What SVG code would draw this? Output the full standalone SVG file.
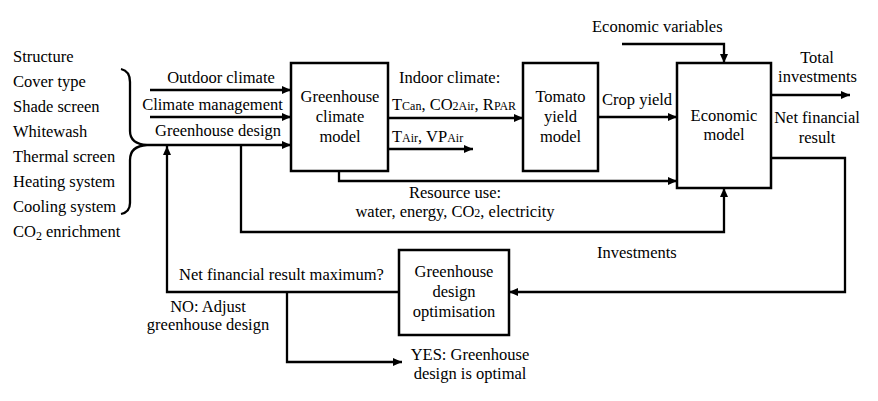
<svg xmlns="http://www.w3.org/2000/svg" width="878" height="401" viewBox="0 0 878 401" font-family="Liberation Serif, DejaVu Serif, serif">
<style>
text{font-family:'Liberation Serif','DejaVu Serif',serif;font-size:16.5px;fill:#000}
.c{text-anchor:middle}
.s{font-size:12px}
.box{fill:#fff;stroke:#000;stroke-width:2.5}
.ln{fill:none;stroke:#000;stroke-width:2.3}
.ar{fill:none;stroke:#000;stroke-width:2.3;marker-end:url(#ah)}
</style>
<defs>
<marker id="ah" markerUnits="userSpaceOnUse" markerWidth="10" markerHeight="9" refX="9" refY="4" orient="auto">
<path d="M0,0 L9,4 L0,8 z" fill="#000"/>
</marker>
</defs>
<rect width="878" height="401" fill="#fff"/>

<g id="inputs">
<text x="13" y="62">Structure</text>
<text x="13" y="87">Cover type</text>
<text x="13" y="112">Shade screen</text>
<text x="13" y="137">Whitewash</text>
<text x="13" y="162">Thermal screen</text>
<text x="13" y="187">Heating system</text>
<text x="13" y="212">Cooling system</text>
<text x="13" y="237">CO<tspan class="s" dy="3">2</tspan><tspan dy="-3"> enrichment</tspan></text>
<path class="ln" d="M121,69 Q130,71 130,82 L130,131 Q130,144 147,145 Q130,146 130,160 L130,203 Q130,212 121,214"/>
</g>

<g id="connectors">
<path class="ar" d="M150,90 L291,90"/>
<path class="ar" d="M150,117 L291,117"/>
<path class="ar" d="M147,145 L291,145"/>
<path class="ar" d="M388,118 L523,118"/>
<path class="ar" d="M388,149 L473,149"/>
<path class="ar" d="M598,117 L677,117"/>
<path class="ar" d="M622,44 L724,44 L724,63"/>
<path class="ar" d="M771,95 L850,95"/>
<path class="ar" d="M339,171 L339,181 L677,181"/>
<path class="ar" d="M241,145 L241,232 L724,232 L724,188"/>
<path class="ar" d="M771,158 L845,158 L845,292 L509,292"/>
<path class="ar" d="M399,292 L167,292 L167,146"/>
<path class="ar" d="M287,292 L287,362 L402,362"/>
</g>

<g id="labels">
<text class="c" x="221" y="83">Outdoor climate</text>
<text class="c" x="212.5" y="110">Climate management</text>
<text class="c" x="218" y="136">Greenhouse design</text>
<text x="399" y="83">Indoor climate:</text>
<text x="392" y="110">T<tspan class="s">Can</tspan>, CO<tspan class="s">2Air</tspan>, R<tspan class="s">PAR</tspan></text>
<text x="392" y="142">T<tspan class="s">Air</tspan>, VP<tspan class="s">Air</tspan></text>
<text class="c" x="455" y="198">Resource use:</text>
<text class="c" x="455" y="217">water, energy, CO<tspan class="s">2</tspan>, electricity</text>
<text x="592" y="32">Economic variables</text>
<text x="602" y="105">Crop yield</text>
<text class="c" x="817" y="63">Total</text>
<text class="c" x="817.5" y="82">investments</text>
<text class="c" x="817" y="123">Net financial</text>
<text class="c" x="817" y="143">result</text>
<text x="597" y="258">Investments</text>
<text x="179" y="280">Net financial result maximum?</text>
<text class="c" x="208" y="312">NO: Adjust</text>
<text class="c" x="208" y="330">greenhouse design</text>
<text class="c" x="470" y="360">YES: Greenhouse</text>
<text class="c" x="470" y="378.5">design is optimal</text>
</g>

<g id="climate-model">
<rect class="box" x="291" y="63" width="97" height="108"/>
<text class="c" x="340" y="102">Greenhouse</text>
<text class="c" x="340" y="122">climate</text>
<text class="c" x="340" y="142">model</text>
</g>

<g id="yield-model">
<rect class="box" x="523" y="63" width="75" height="108"/>
<text class="c" x="560.5" y="102">Tomato</text>
<text class="c" x="560.5" y="122">yield</text>
<text class="c" x="560.5" y="142">model</text>
</g>

<g id="economic-model">
<rect class="box" x="677" y="63" width="94" height="125"/>
<text class="c" x="724" y="121">Economic</text>
<text class="c" x="724" y="140">model</text>
</g>

<g id="design-optimisation">
<rect class="box" x="399" y="250" width="110" height="85"/>
<text class="c" x="454" y="277">Greenhouse</text>
<text class="c" x="454" y="297">design</text>
<text class="c" x="454" y="317">optimisation</text>
</g>
</svg>
